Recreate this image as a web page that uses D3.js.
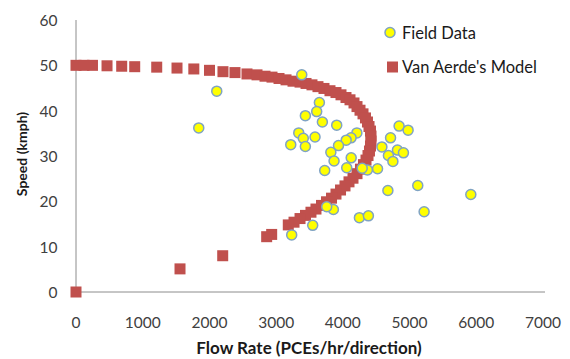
<!DOCTYPE html>
<html>
<head>
<meta charset="utf-8">
<script src="https://cdn.jsdelivr.net/npm/d3@7"></script>
<style>
  body { margin: 0; background: #fff; }
  text { font-family: Lato, "Open Sans", sans-serif; }
  .tick-label { font-size: 15.5px; fill: #404040; }
  .axis-title { font-weight: bold; fill: #1a1a1a; }
  .legend-label { font-size: 16.5px; fill: #1a1a1a; }
</style>
</head>
<body>
<div id="chart"></div>
<script>
var WIDTH = 570,
    HEIGHT = 359;

var xTicks = [0, 1000, 2000, 3000, 4000, 5000, 6000, 7000];
var yTicks = [0, 10, 20, 30, 40, 50, 60];

// field observations: [flow, speed]
var fieldData = [
    [2110, 44.3], [1840, 36.2], [3384, 47.9], [3648, 41.8], [3608, 39.8],
    [3438, 38.9], [3693, 37.5], [3908, 36.8], [4843, 36.6], [4978, 35.7],
    [3339, 35.1], [3407, 33.9], [3583, 34.2], [3219, 32.5], [3438, 32.1],
    [4210, 35.1], [4123, 34.0], [4050, 33.5], [3935, 32.3], [3820, 30.8],
    [3868, 28.9], [4125, 29.6], [3728, 26.8], [4058, 27.4], [4715, 34.0],
    [4585, 32.0], [4818, 31.3], [4908, 30.7], [4683, 30.1], [4750, 28.8],
    [4520, 27.2], [4368, 26.9], [4290, 27.3], [4675, 22.4], [5123, 23.5],
    [5918, 21.5], [5218, 17.7], [4248, 16.4], [4383, 16.8], [3858, 18.2],
    [3758, 18.8], [3548, 14.7], [3233, 12.6]
];

// Van Aerde model curve: [flow, speed]
var modelFlow = [
    0, 120, 247, 465, 685, 880, 1210, 1514, 1766, 2001,
    2203, 2383, 2563, 2713, 2833, 2938, 3043, 3148, 3253, 3358,
    3448, 3537, 3627, 3717, 3807, 3897, 3972, 4047, 4107, 4167,
    4212, 4257, 4302, 4339, 4369, 4392, 4414, 4422, 4422, 4414,
    4399, 4377, 4347, 4309, 4264, 4212, 4152, 4092, 4032, 3965,
    3897, 3830, 3755, 3680, 3597, 3522, 3440, 3358, 3268, 3182,
    2933, 2858, 2199, 1559, 0
];
var modelSpeed = [
    50.0, 50.0, 50.0, 49.9, 49.8, 49.7, 49.6, 49.4, 49.2, 48.9,
    48.6, 48.4, 48.1, 47.9, 47.6, 47.4, 47.1, 46.8, 46.5, 46.3,
    46.0, 45.7, 45.3, 44.9, 44.4, 44.0, 43.5, 42.9, 42.4, 41.7,
    40.9, 40.1, 39.3, 38.4, 37.5, 36.5, 35.5, 34.4, 33.3, 32.2,
    31.1, 30.1, 29.1, 28.1, 27.1, 26.1, 25.1, 24.3, 23.4, 22.5,
    21.6, 20.7, 19.9, 19.1, 18.3, 17.6, 16.9, 16.2, 15.4, 14.8,
    12.7, 12.2, 8.0, 5.1, 0.0
];

var seriesNames = ["Field Data", "Van Aerde's Model"];

var svg = d3.select("#chart")
    .append("svg")
    .attr("width", WIDTH)
    .attr("height", HEIGHT);

var x = d3.scaleLinear().domain([0, 7000]).range([76, 543]);
var y = d3.scaleLinear().domain([0, 60]).range([292, 20]);

// axis lines
svg.append("line")
    .attr("x1", x(0)).attr("x2", 545)
    .attr("y1", y(0)).attr("y2", y(0))
    .attr("stroke", "#8c8c8c").attr("stroke-width", 1);

svg.append("line")
    .attr("x1", x(0)).attr("x2", x(0))
    .attr("y1", y(0)).attr("y2", y(60))
    .attr("stroke", "#8c8c8c").attr("stroke-width", 1);

svg.selectAll(".y-label")
    .data(yTicks)
    .enter().append("text")
    .attr("class", "tick-label")
    .attr("x", 57.5)
    .attr("y", function (d) { return y(d); })
    .attr("text-anchor", "end")
    .attr("dominant-baseline", "central")
    .text(function (d) { return d; });

svg.selectAll(".x-label")
    .data(xTicks)
    .enter().append("text")
    .attr("class", "tick-label")
    .attr("x", function (d) { return x(d); })
    .attr("y", 322)
    .attr("text-anchor", "middle")
    .attr("dominant-baseline", "central")
    .text(function (d) { return d; });

svg.append("text")
    .attr("class", "axis-title")
    .attr("x", 309)
    .attr("y", 347)
    .attr("font-size", "17px")
    .attr("text-anchor", "middle")
    .attr("dominant-baseline", "central")
    .text("Flow Rate (PCEs/hr/direction)");

svg.append("text")
    .attr("class", "axis-title")
    .attr("transform", "translate(21,154) rotate(-90)")
    .attr("font-size", "14px")
    .attr("text-anchor", "middle")
    .attr("dominant-baseline", "central")
    .text("Speed (kmph)");

// model squares
var SQ = 11;
svg.append("g")
    .selectAll("rect")
    .data(d3.zip(modelFlow, modelSpeed))
    .enter().append("rect")
    .attr("x", function (d) { return x(d[0]) - SQ / 2; })
    .attr("y", function (d) { return y(d[1]) - SQ / 2; })
    .attr("width", SQ)
    .attr("height", SQ)
    .attr("fill", "#c0504d");

// field data circles
svg.append("g")
    .selectAll("circle")
    .data(fieldData)
    .enter().append("circle")
    .attr("cx", function (d) { return x(d[0]); })
    .attr("cy", function (d) { return y(d[1]); })
    .attr("r", 5)
    .attr("fill", "#ffff00")
    .attr("stroke", "#7fa3c4")
    .attr("stroke-width", 1.5);

// legend
var legend = svg.append("g");
legend.append("circle")
    .attr("cx", 390).attr("cy", 32.5).attr("r", 5)
    .attr("fill", "#ffff00")
    .attr("stroke", "#7fa3c4")
    .attr("stroke-width", 1.5);
legend.append("rect")
    .attr("x", 387).attr("y", 61.5).attr("width", SQ).attr("height", SQ)
    .attr("fill", "#c0504d");

legend.selectAll(".legend-label")
    .data(seriesNames)
    .enter().append("text")
    .attr("class", "legend-label")
    .attr("x", 402)
    .attr("y", function (d, i) { return 32.5 + i * 34.5; })
    .attr("dominant-baseline", "central")
    .text(function (d) { return d; });
</script>
</body>
</html>
